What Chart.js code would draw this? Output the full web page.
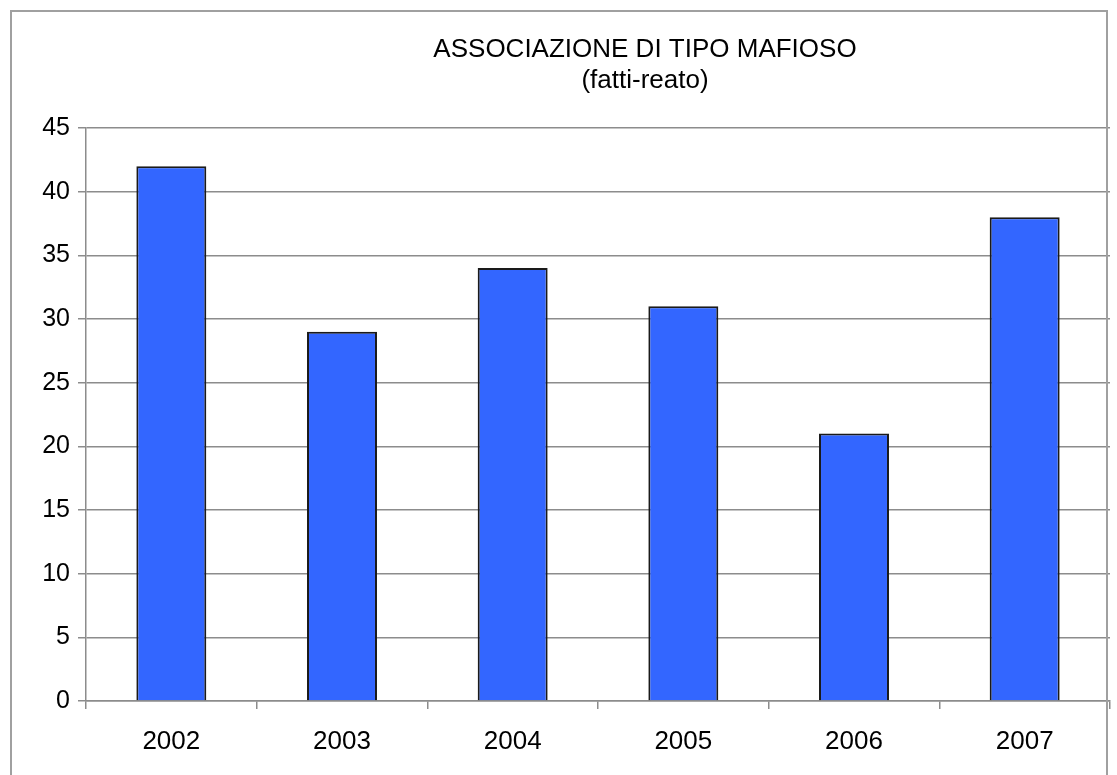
<!DOCTYPE html>
<html>
<head>
<meta charset="utf-8">
<script src="https://cdn.jsdelivr.net/npm/chart.js@4/dist/chart.umd.min.js"></script>
<style>
    html, body { margin: 0; padding: 0; background: #fff; overflow: hidden; }
    #wrap { position: relative; width: 1117px; height: 775px; }
    #frame {
        position: absolute; left: 10px; top: 10px; width: 1094px; height: 800px;
        border: 2px solid #a0a0a0; pointer-events: none;
    }
</style>
</head>
<body>
<div id="wrap">
    <canvas id="chart" width="1117" height="775"></canvas>
    <div id="frame"></div>
</div>
<script>
const years = ["2002", "2003", "2004", "2005", "2006", "2007"];
const crimes = [42, 29, 34, 31, 21, 38];
const titleLines = ["ASSOCIAZIONE DI TIPO MAFIOSO", "(fatti-reato)"];

const FONT = "'Liberation Sans', Arial, sans-serif";

// title is drawn off-centre in the original, so draw it by hand
const titlePlugin = {
    id: "twoLineTitle",
    afterDraw(chart) {
        const ctx = chart.ctx;
        ctx.save();
        ctx.fillStyle = "#000";
        ctx.font = "26px " + FONT;
        ctx.textAlign = "center";
        ctx.textBaseline = "alphabetic";
        ctx.fillText(titleLines[0], 645, 57);
        ctx.fillText(titleLines[1], 645, 88);
        ctx.restore();
    }
};

new Chart(document.getElementById("chart"), {
    type: "bar",
    data: {
        labels: years,
        datasets: [{
            data: crimes,
            backgroundColor: "#3366ff",
            borderColor: "#1a1a1a",
            borderWidth: 2,
            categoryPercentage: 1,
            barPercentage: 0.41
        }]
    },
    options: {
        responsive: false,
        animation: false,
        layout: { padding: { top: 128, left: 10, right: 7, bottom: 0 } },
        plugins: {
            legend: { display: false },
            title: { display: false },
            tooltip: { enabled: false }
        },
        scales: {
            x: {
                grid: {
                    drawOnChartArea: false,
                    drawTicks: true,
                    tickLength: 8,
                    color: "#8c8c8c",
                    lineWidth: 1.5
                },
                border: { color: "#8c8c8c", width: 1.5 },
                ticks: {
                    color: "#000",
                    padding: 17,
                    font: { size: 26, family: FONT }
                },
                afterFit(scale) { scale.height = 74; }
            },
            y: {
                min: 0,
                max: 45,
                grid: {
                    color: "#8c8c8c",
                    lineWidth: 1.5,
                    tickLength: 8
                },
                border: { color: "#8c8c8c", width: 1.5 },
                ticks: {
                    stepSize: 5,
                    color: "#000",
                    padding: 8,
                    font: { size: 25, family: FONT }
                },
                afterFit(scale) { scale.width = 76; }
            }
        }
    },
    plugins: [titlePlugin]
});
</script>
</body>
</html>
